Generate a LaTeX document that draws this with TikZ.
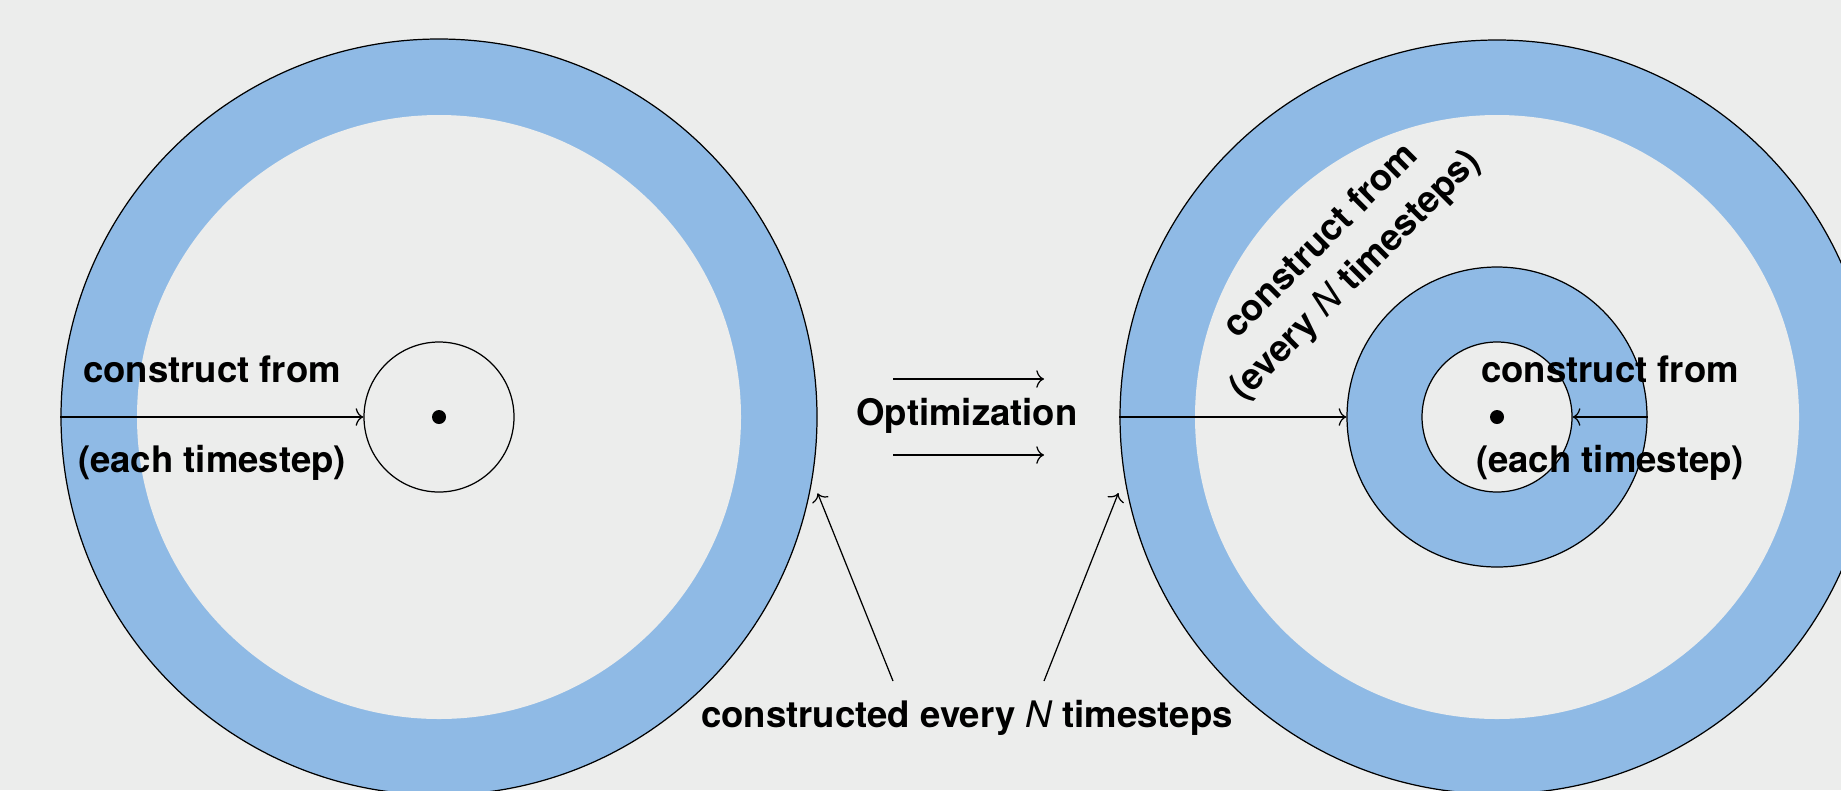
\documentclass[tikz,border=0pt]{standalone}
\usepackage{fontspec}
\setmainfont{TeX Gyre Heros}
\usetikzlibrary{arrows.meta}
\definecolor{bg}{RGB}{236,237,236}
\definecolor{ring}{RGB}{143,186,229}

\begin{document}
\begin{tikzpicture}[x=0.1mm,y=-0.1mm,
  lbl/.style={font=\fontsize{10.4}{13.9}\selectfont\bfseries, inner sep=0pt, align=center},
  ringdisc/.style={circle, draw=black, line width=0.35pt, fill=ring, inner sep=0pt, minimum size=#1},
  hole/.style={circle, draw=none, fill=bg, inner sep=0pt, minimum size=#1},
  core/.style={circle, draw=black, line width=0.35pt, fill=bg, inner sep=0pt, minimum size=#1},
  centre/.style={circle, fill=black, inner sep=0pt, minimum size=1.4mm},
  arr/.style={line width=0.35pt, -{To[length=2.2pt,width=5pt]}}]

% canvas
\fill[bg] (0,0) rectangle (1841,790);
\useasboundingbox (0,0) rectangle (1841,790);
\clip (0,0) rectangle (1841,790);

% left: single outer ring around a core
\node[ringdisc=75.6mm] (L) at (439,417) {};
\node[hole=60.4mm] (Lh) at (439,417) {};
\node[core=15mm] (Ls) at (439,417) {};
\node[centre] (Ld) at (439,417) {};

% right: outer ring, middle ring, core
\node[ringdisc=75.4mm] (R) at (1497,417) {};
\node[hole=60.4mm] (Rh) at (1497,417) {};
\node[ringdisc=30mm] (Rm) at (1497,417) {};
\node[core=15mm] (Rs) at (1497,417) {};
\node[centre] (Rd) at (1497,417) {};

% construction arrows
\draw[arr] (L.west) -- (Ls.west);
\draw[arr] (R.west) -- (Rm.west);
\draw[arr] (Rm.east) -- (Rs.east);

% labels
\node[lbl] (l1) at (212,369) {construct from};
\node[lbl] (l2) at (212,463) {(each timestep)};
\node[lbl] (r1) at (1610,369) {construct from};
\node[lbl] (r2) at (1610,463) {(each timestep)};
\node[lbl, rotate=45] (rot) at (1339,259) {construct from\\(every {\mdseries\itshape N} timesteps)};

% optimization step
\node[lbl] (opt) at (967,416) {Optimization};
\coordinate (oa1) at (893,379);
\coordinate (ob1) at (1044,379);
\coordinate (oa2) at (893,455);
\coordinate (ob2) at (1044,455);
\draw[arr] (oa1) -- (ob1);
\draw[arr] (oa2) -- (ob2);

% bottom annotation: arrows end just outside the outer rings
\node[lbl] (bot) at (967,718) {constructed every {\mdseries\itshape N} timesteps};
\coordinate (ba) at (893,681);
\coordinate (bb) at (1044,681);
\draw[arr] (ba) -- ([shift={(7,4)}]L.-11);
\draw[arr] (bb) -- ([shift={(-8,4)}]R.191);
\end{tikzpicture}
\end{document}
